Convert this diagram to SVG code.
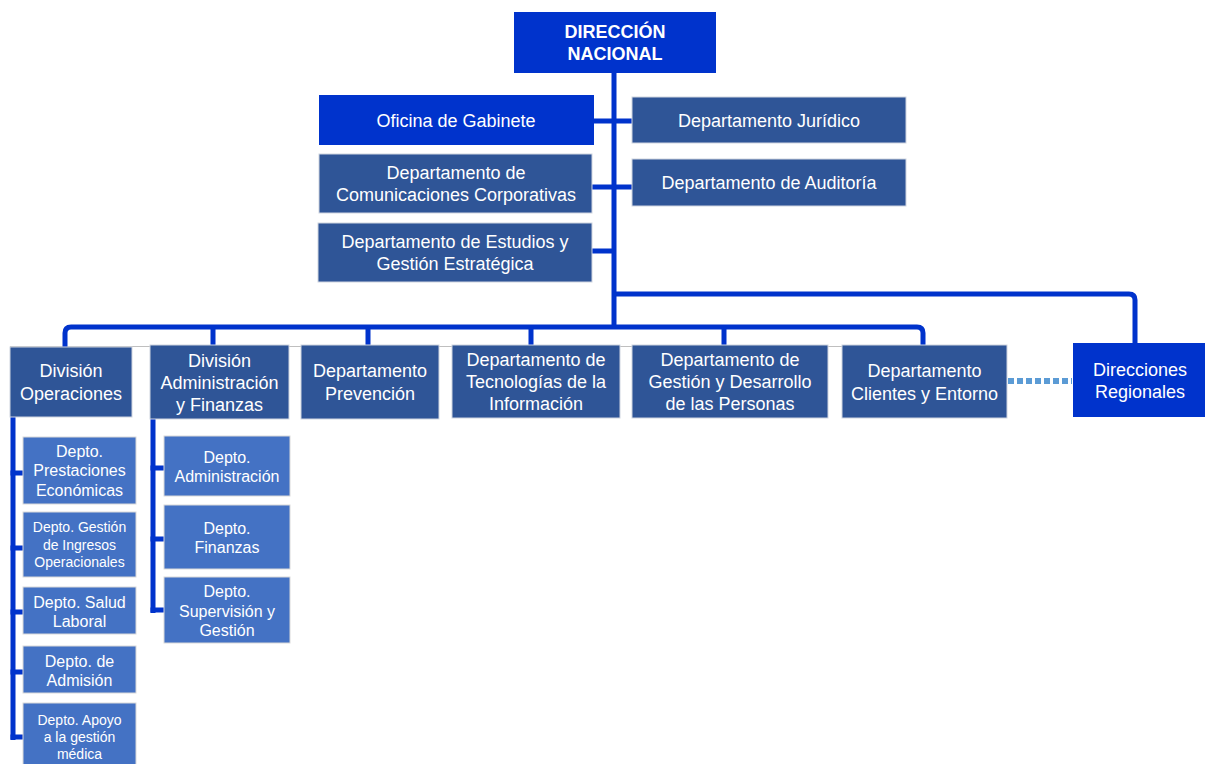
<svg xmlns="http://www.w3.org/2000/svg" width="1205" height="764" viewBox="0 0 1205 764">
<style>
.n1{fill:#0033CC}
.n2{fill:#2F5597;stroke:#D0D5E0;stroke-width:1}
.n3{fill:#4472C4;stroke:#D9D9D9;stroke-width:1}
text{font-family:"Liberation Sans",Arial,sans-serif;fill:#FFFFFF;text-anchor:middle}
.t18{font-size:18px}
.t16{font-size:16px}
.t14{font-size:14px}
.b{font-weight:bold;font-size:18px}
.c{fill:none;stroke:#0033CC;stroke-width:5}
</style>
<rect width="1205" height="764" fill="#FFFFFF"/>
<g id="connectors">
<line x1="10" y1="346.5" x2="1007" y2="346.5" stroke="#BFBFBF" stroke-width="1"/>
<path class="c" d="M614,73 V327"/>
<path class="c" d="M614,294 H1129 Q1135,294 1135,300 V343"/>
<path class="c" d="M65,347 V333 Q65,327 71,327 H917 Q923,327 923,333 V345"/>
<path class="c" d="M213,327 V345 M368,327 V345 M531,327 V345 M724,327 V345"/>
<path class="c" d="M594,121 H632 M592,187 H632 M592,251 H614"/>
<path class="c" d="M13,417 V740"/>
<path class="c" d="M10.5,473 H23 M10.5,548 H23 M10.5,612 H23 M10.5,672 H23 M10.5,737 H23"/>
<path class="c" d="M153,419 V613"/>
<path class="c" d="M150.5,468 H164 M150.5,539 H164 M150.5,610 H164"/>
<path d="M1008,381 H1072" fill="none" stroke="#5B9BD5" stroke-width="6" stroke-dasharray="6,3"/>
</g>
<g id="direccion-nacional"><rect class="n1" x="514" y="12" width="202" height="61"/><text class="b" x="615" y="38">DIRECCIÓN</text><text class="b" x="615" y="60">NACIONAL</text></g>
<g id="oficina-gabinete"><rect class="n1" x="319" y="95" width="275" height="50"/><text class="t18" x="456" y="127">Oficina de Gabinete</text></g>
<g id="depto-juridico"><rect class="n2" x="632" y="97" width="274" height="46"/><text class="t18" x="769" y="127">Departamento Jurídico</text></g>
<g id="depto-comunicaciones"><rect class="n2" x="319" y="154" width="273" height="59"/><text class="t18" x="456" y="179">Departamento de</text><text class="t18" x="456" y="201">Comunicaciones Corporativas</text></g>
<g id="depto-auditoria"><rect class="n2" x="632" y="159" width="274" height="47"/><text class="t18" x="769" y="189">Departamento de Auditoría</text></g>
<g id="depto-estudios"><rect class="n2" x="318" y="223" width="274" height="59"/><text class="t18" x="455" y="248">Departamento de Estudios y</text><text class="t18" x="455" y="270">Gestión Estratégica</text></g>
<g id="div-operaciones"><rect class="n2" x="10" y="347" width="122" height="70"/><text class="t18" x="71" y="377">División</text><text class="t18" x="71" y="400">Operaciones</text></g>
<g id="div-administracion"><rect class="n2" x="150" y="345" width="139" height="74"/><text class="t18" x="219.5" y="367">División</text><text class="t18" x="219.5" y="389">Administración</text><text class="t18" x="219.5" y="411">y Finanzas</text></g>
<g id="depto-prevencion"><rect class="n2" x="301" y="345" width="138" height="74"/><text class="t18" x="370" y="377">Departamento</text><text class="t18" x="370" y="400">Prevención</text></g>
<g id="depto-ti"><rect class="n2" x="452" y="345" width="168" height="73"/><text class="t18" x="536" y="366">Departamento de</text><text class="t18" x="536" y="388">Tecnologías de la</text><text class="t18" x="536" y="410">Información</text></g>
<g id="depto-personas"><rect class="n2" x="632" y="345" width="196" height="73"/><text class="t18" x="730" y="366">Departamento de</text><text class="t18" x="730" y="388">Gestión y Desarrollo</text><text class="t18" x="730" y="410">de las Personas</text></g>
<g id="depto-clientes"><rect class="n2" x="842" y="345" width="165" height="73"/><text class="t18" x="924.5" y="377">Departamento</text><text class="t18" x="924.5" y="400">Clientes y Entorno</text></g>
<g id="direcciones-regionales"><rect class="n1" x="1073" y="343" width="132" height="74"/><text class="t18" x="1140" y="376">Direcciones</text><text class="t18" x="1140" y="398">Regionales</text></g>
<g id="depto-prestaciones"><rect class="n3" x="23" y="437" width="113" height="67"/><text class="t16" x="79.5" y="457">Depto.</text><text class="t16" x="79.5" y="476">Prestaciones</text><text class="t16" x="79.5" y="496">Económicas</text></g>
<g id="depto-ingresos"><rect class="n3" x="23" y="512" width="113" height="65"/><text class="t14" x="79.5" y="532">Depto. Gestión</text><text class="t14" x="79.5" y="550">de Ingresos</text><text class="t14" x="79.5" y="567">Operacionales</text></g>
<g id="depto-salud"><rect class="n3" x="23" y="587" width="113" height="47"/><text class="t16" x="79.5" y="608">Depto. Salud</text><text class="t16" x="79.5" y="627">Laboral</text></g>
<g id="depto-admision"><rect class="n3" x="23" y="646" width="113" height="47"/><text class="t16" x="79.5" y="667">Depto. de</text><text class="t16" x="79.5" y="686">Admisión</text></g>
<g id="depto-apoyo"><rect class="n3" x="23" y="703" width="113" height="62"/><text class="t14" x="79.5" y="725">Depto. Apoyo</text><text class="t14" x="79.5" y="742">a la gestión</text><text class="t14" x="79.5" y="759">médica</text></g>
<g id="depto-administracion"><rect class="n3" x="164" y="436" width="126" height="60"/><text class="t16" x="227" y="463">Depto.</text><text class="t16" x="227" y="482">Administración</text></g>
<g id="depto-finanzas"><rect class="n3" x="164" y="505" width="126" height="64"/><text class="t16" x="227" y="534">Depto.</text><text class="t16" x="227" y="553">Finanzas</text></g>
<g id="depto-supervision"><rect class="n3" x="164" y="577" width="126" height="66"/><text class="t16" x="227" y="597">Depto.</text><text class="t16" x="227" y="617">Supervisión y</text><text class="t16" x="227" y="636">Gestión</text></g>
</svg>
